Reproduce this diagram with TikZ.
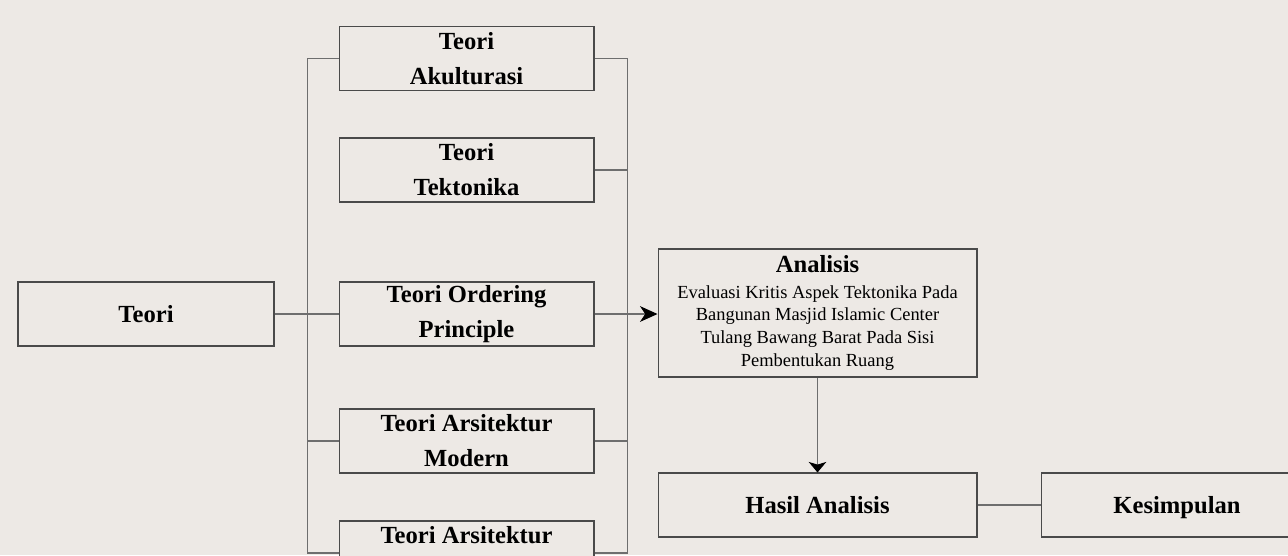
\documentclass[tikz,border=0pt]{standalone}
\usepackage{fontspec}
\setmainfont{Liberation Serif}
\usetikzlibrary{arrows.meta,calc}
\definecolor{paper}{HTML}{EDE9E5}
\definecolor{boxline}{HTML}{4A4A4A}
\definecolor{wire}{HTML}{6E6E6E}

\begin{document}
\begin{tikzpicture}[x=0.02cm,y=-0.02cm,>={Stealth[length=10pt,width=9pt,inset=3pt,color=black]},
  theory node/.style={rectangle,draw=boxline,line width=0.6pt,fill=paper,
    minimum width=5.1cm,minimum height=1.28cm,align=center,inner sep=0pt,
    font=\fontsize{14}{20}\selectfont\bfseries},
  wide node/.style={theory node,minimum width=6.38cm},
  wire line/.style={draw=wire,line width=0.6pt}]

\fill[paper] (0,0) rectangle (1288,555);
\useasboundingbox (0,0) rectangle (1288,555);

\node[theory node,minimum width=5.12cm](T) at (146,314) {Teori};
\node[theory node](TA) at (466.5,58.5) {Teori\\Akulturasi};
\node[theory node](TT) at (466.5,170) {Teori\\Tektonika};
\node[theory node](TO) at (466.5,314) {Teori Ordering\\Principle};
\node[theory node](TM) at (466.5,441) {Teori Arsitektur\\Modern};
\node[theory node](TX) at (466.5,553) {Teori Arsitektur\\\vphantom{Modern}};
\node[wide node,minimum height=2.56cm,font=\fontsize{10.5}{13}\selectfont](AN) at (817.5,313)
  {{\fontsize{14}{14}\selectfont\bfseries Analisis}\\[1.5pt]
   Evaluasi Kritis Aspek Tektonika Pada\\
   Bangunan Masjid Islamic Center\\
   Tulang Bawang Barat Pada Sisi\\
   Pembentukan Ruang};
\node[wide node](HA) at (817.5,505) {Hasil Analisis};
\node[theory node,minimum width=5.44cm,text depth=0pt](KS) at (1177,505) {Kesimpulan};

\draw[wire line] (TA.west) -- ++(-31,0) coordinate (LB) |- (TX.west);
\draw[wire line] (TM.west) -- (TM.west -| LB);
\draw[wire line] (TA.east) -- ++(33,0) coordinate (RB) |- (TX.east);
\draw[wire line] (TT.east) -- (TT.east -| RB);
\draw[wire line] (TM.east) -- (TM.east -| RB);

\path[wire line]
(T) edge (TO)
(TO.east) edge[->] (TO.east -| AN.west)
(AN) edge[->,>={Stealth[length=6pt,width=10pt,inset=1.5pt,color=black]}] (HA)
(HA) edge (KS);

\end{tikzpicture}
\end{document}
